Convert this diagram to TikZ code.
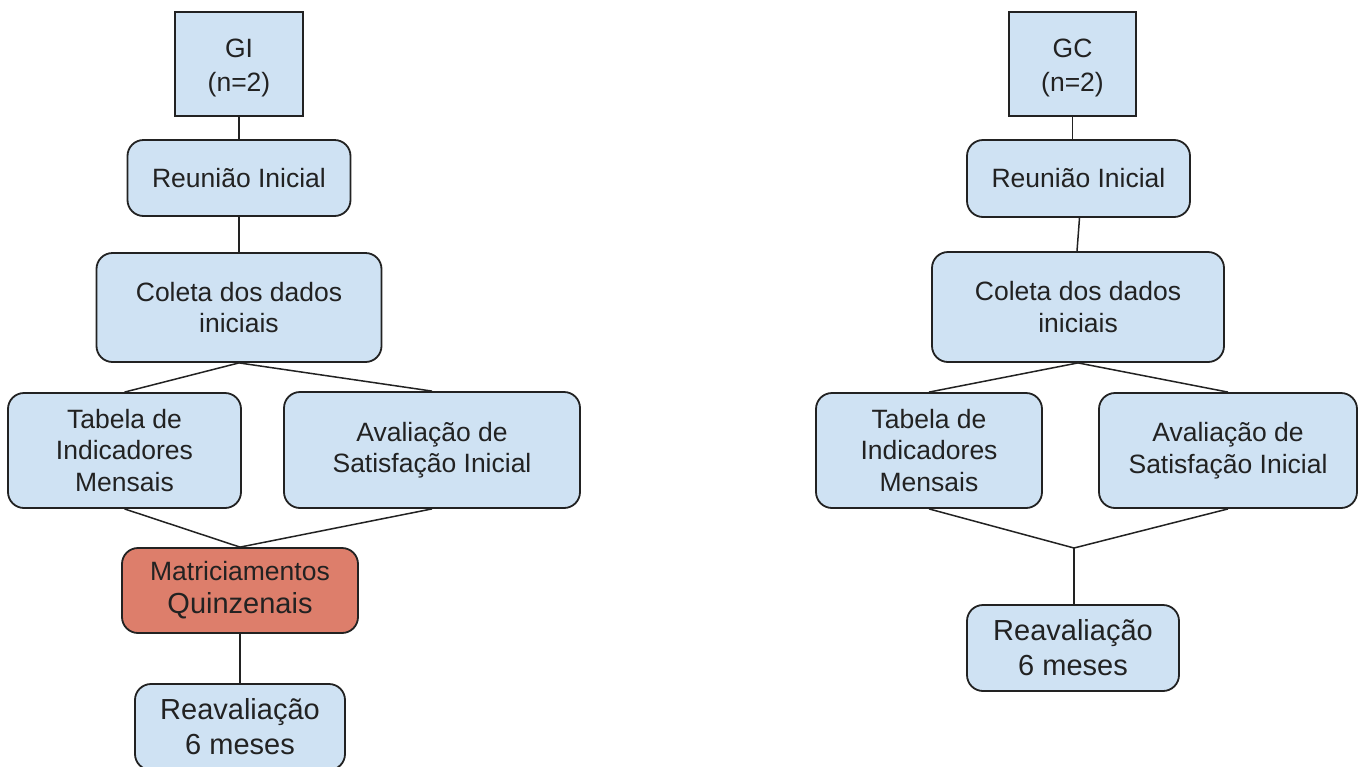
\documentclass[tikz,border=0pt]{standalone}
\usepackage{fontspec}
\setmainfont{Liberation Sans}
\definecolor{boxblue}{HTML}{CFE2F3}
\definecolor{boxred}{HTML}{DD7E6B}
\definecolor{ink}{HTML}{222222}
\begin{document}
\begin{tikzpicture}[x=1pt,y=-1pt,
  base/.style={draw=ink, line width=1.8pt, fill=boxblue, text=ink, align=center, inner sep=0pt,
               font=\fontsize{26.5}{31.5}\selectfont},
  sqbox/.style={base, rectangle},
  rbox/.style={base, rounded corners=16pt},
  bigtext/.style={font=\fontsize{29}{35}\selectfont},
  link/.style={draw=ink, line width=1.5pt}]
\useasboundingbox (0,0) rectangle (1365,766);
\clip (0,0) rectangle (1365,766);
\fill[white] (0,0) rectangle (1365,766);

% ---------- Left column (GI) ----------
\node[sqbox, minimum width=128pt, minimum height=104pt, font=\fontsize{26.5}{34}\selectfont] (gi) at (239,64) {\rule{0pt}{26pt}GI\\(n=2)};
\node[rbox, minimum width=223pt, minimum height=76pt] (r1) at (239,178) {Reunião Inicial};
\node[rbox, minimum width=285pt, minimum height=109pt] (c1) at (239,307.5) {Coleta dos dados\\iniciais};
\node[rbox, minimum width=233pt, minimum height=115pt] (t1) at (124.5,450.5) {Tabela de\\Indicadores\\Mensais};
\node[rbox, minimum width=296pt, minimum height=116pt] (a1) at (432,450) {Avaliação de\\Satisfação Inicial};
\node[rbox, fill=boxred, minimum width=236pt, minimum height=85pt, font=\fontsize{26.5}{33}\selectfont] (m1) at (240,590.5)
  {Matriciamentos\\{\fontsize{29}{33}\selectfont Quinzenais}};
\node[rbox, bigtext, minimum width=210pt, minimum height=86pt] (v1) at (240,727) {Reavaliação\\6 meses};

\draw[link] (gi.south) -- (r1.north);
\draw[link] (r1.south) -- (c1.north);
\draw[link] (c1.south) -- (t1.north);
\draw[link] (c1.south) -- (a1.north);
\draw[link] (t1.south) -- (m1.north);
\draw[link] (a1.south) -- (m1.north);
\draw[link] (m1.south) -- (v1.north);

% ---------- Right column (GC) ----------
\node[sqbox, minimum width=127pt, minimum height=104pt, font=\fontsize{26.5}{34}\selectfont] (gc) at (1072.5,64) {\rule{0pt}{26pt}GC\\(n=2)};
\node[rbox, minimum width=223pt, minimum height=77pt] (r2) at (1078.5,178.5) {Reunião Inicial};
\node[rbox, minimum width=292pt, minimum height=110pt] (c2) at (1078,307) {Coleta dos dados\\iniciais};
\node[rbox, minimum width=226pt, minimum height=115pt] (t2) at (929,450.5) {Tabela de\\Indicadores\\Mensais};
\node[rbox, minimum width=258pt, minimum height=115pt] (a2) at (1228,450.5) {Avaliação de\\Satisfação Inicial};
\coordinate (j2) at (1074,548);
\node[rbox, bigtext, minimum width=212pt, minimum height=86pt] (v2) at (1073,648) {Reavaliação\\6 meses};

\draw[link] (gc.south) -- (gc.south |- r2.north);
\draw[link] ([xshift=1pt]r2.south) -- ([xshift=-1pt]c2.north);
\draw[link] (c2.south) -- (t2.north);
\draw[link] (c2.south) -- (a2.north);
\draw[link] (t2.south) -- (j2);
\draw[link] (a2.south) -- (j2);
\draw[link] (j2) -- (j2 |- v2.north);
\end{tikzpicture}
\end{document}
